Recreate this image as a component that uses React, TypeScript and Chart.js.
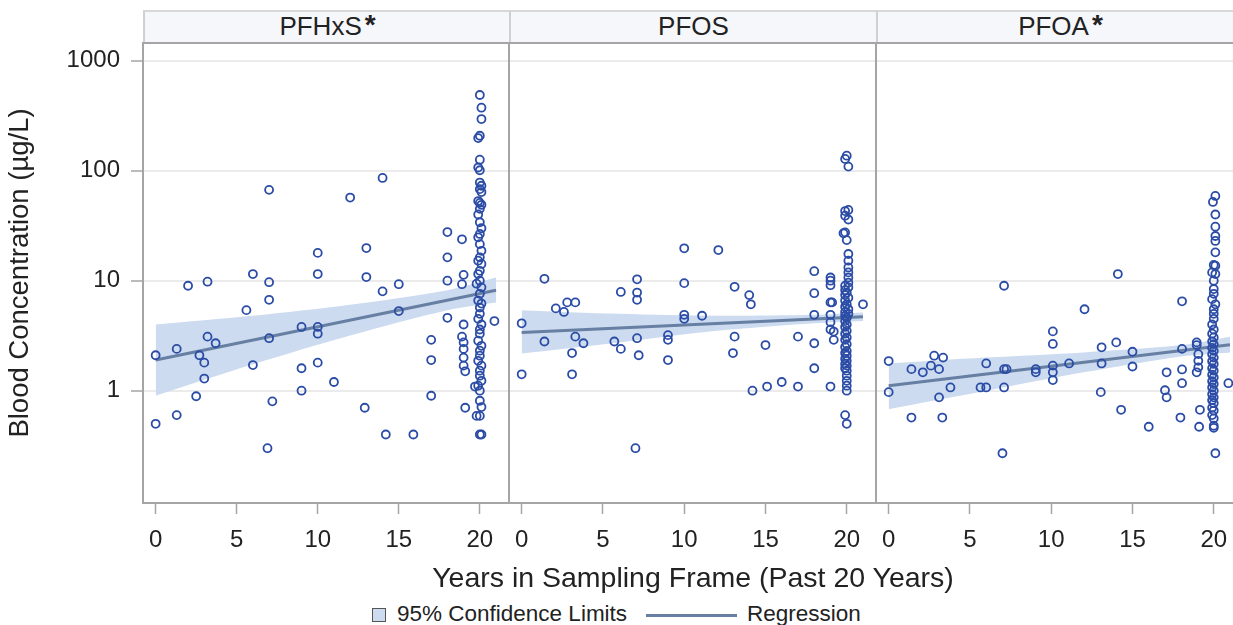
import { useEffect, useRef } from "react";
import { Chart, registerables } from "chart.js";

Chart.register(...registerables);

// ---- data ----
const panelNames = ["PFHxS", "PFOS", "PFOA"];
const panelStars = [true, false, true];

const xTicks = [0, 5, 10, 15, 20];
const yTicks = [1, 10, 100, 1000];

// regression endpoints (years, µg/L)
const fitYears = [0, 21];
const pfhxsFit = [1.9, 8.2];
const pfosFit = [3.39, 4.7];
const pfoaFit = [1.11, 2.62];

// 95% confidence limits
const bandYears = [0, 6, 12, 18, 21];
const pfhxsUpper = [4.0, 4.8, 6.05, 8.2, 10.7];
const pfhxsLower = [0.9, 1.74, 3.18, 5.4, 6.35];
const pfosUpper = [5.4, 5.0, 4.8, 4.9, 5.15];
const pfosLower = [2.18, 2.75, 3.5, 4.1, 4.3];
const pfoaUpper = [1.77, 2.0, 2.23, 2.6, 3.1];
const pfoaLower = [0.68, 1.0, 1.47, 2.05, 2.23];

// observations [years, concentration]
const pfhxsPoints: [number, number][] = [
  [0, 2.1], [0, 0.5], [1.3, 2.4], [1.3, 0.6], [2, 9.0], [2.5, 0.89], [2.7, 2.1], [3, 1.8], [3, 1.29],
  [3.2, 9.8], [3.2, 3.1], [3.7, 2.7], [5.6, 5.4], [6, 11.5], [6, 1.71], [7, 67], [7, 9.7], [7, 6.7],
  [7, 3.0], [7.2, 0.8], [6.9, 0.3], [9, 3.8], [9, 1.6], [9, 1.0], [10, 17.9], [10, 11.5], [10, 3.8],
  [10, 3.3], [10, 1.8], [11, 1.2], [12, 57], [12.9, 0.7], [13, 19.8], [13, 10.8], [14, 86], [14, 8.0],
  [14.2, 0.4], [15, 9.3], [15, 5.3], [15.9, 0.4], [17, 2.9], [17, 1.9], [17, 0.9], [18, 27.7], [18, 16.3],
  [18, 10], [18, 4.6], [18.9, 23.8], [18.9, 9.3], [19, 11.3], [19, 4.0], [18.9, 3.1], [19, 2.75], [19, 2.4],
  [19, 2.0], [19, 1.69], [19.1, 1.5], [19.1, 0.7], [19.8, 9.4], [19.7, 1.09], [19.8, 0.59], [20.9, 4.3],
  [20, 488], [20.1, 374], [20.1, 295], [20, 208], [19.9, 198], [20, 126], [19.9, 107], [20, 101], [20, 78],
  [20.1, 73], [20, 68], [20.1, 64], [19.9, 53], [20, 51], [20.1, 49], [20, 45], [19.9, 40], [20, 34],
  [20.1, 30], [20, 26.6], [19.9, 24.8], [20, 21.5], [20.1, 18.7], [20, 16.3], [19.9, 15.2], [20.1, 14.2],
  [20, 12.3], [19.9, 11.5], [20, 10], [20.1, 8.7], [20, 7.6], [19.9, 6.6], [20.1, 6.2], [20, 5.7], [20, 5.0],
  [19.9, 4.5], [20.1, 4.0], [20, 3.6], [20, 3.3], [19.9, 2.85], [20.1, 2.56], [20, 2.31], [20, 2.08],
  [19.9, 1.87], [20.1, 1.69], [20, 1.52], [20, 1.37], [20.1, 1.23], [19.9, 1.11], [20, 1.0], [20, 0.81],
  [20.1, 0.71], [20, 0.59], [20, 0.4], [20.1, 0.4],
];

const pfosPoints: [number, number][] = [
  [0, 4.1], [0, 1.41], [1.4, 10.4], [1.4, 2.8], [2.1, 5.6], [2.6, 5.2], [2.8, 6.35], [3.1, 2.2], [3.1, 1.41],
  [3.3, 6.35], [3.3, 3.1], [3.8, 2.7], [5.7, 2.8], [6.1, 7.9], [6.1, 2.4], [7.1, 10.3], [7.1, 7.8], [7.1, 6.7],
  [7.1, 3.0], [7.2, 2.1], [7.0, 0.3], [9, 3.2], [9, 2.9], [9, 1.9], [10, 19.7], [10, 9.5], [10, 4.9],
  [10, 4.5], [11.1, 4.8], [12.1, 19.0], [13.1, 8.8], [13.1, 3.1], [13, 2.2], [14, 7.4], [14.1, 6.1],
  [14.2, 1.0], [15, 2.6], [15.1, 1.09], [16, 1.2], [17, 3.1], [17, 1.09], [18, 12.2], [18, 7.7], [18, 4.9],
  [18, 2.7], [18, 1.6], [19, 10.7], [19, 10], [19, 9.1], [19, 6.35], [19.1, 6.35], [19, 4.9], [19, 4.2],
  [19, 3.6], [19.2, 3.45], [19.2, 2.9], [19, 1.09], [21, 6.1],
  [20, 137], [19.9, 128], [20.1, 109], [19.9, 43], [20.1, 44], [19.9, 39], [20.1, 36], [19.9, 27.5],
  [19.8, 27], [20, 23.4], [20.1, 17.5], [20.1, 15.2], [20.1, 13.2], [20.1, 11.9], [20.1, 10.7], [20.1, 9.6],
  [20.1, 8.7], [20, 7.8], [20.1, 7.0], [20, 6.1], [20.1, 5.5], [20.1, 5.0], [20, 4.6], [20, 4.0], [20, 3.5],
  [20, 3.05], [20, 2.65], [20, 2.3], [20, 2.08], [20, 1.87], [20, 1.69], [20, 1.52], [20, 1.37], [20, 1.23],
  [20, 1.11], [20, 1.0], [19.9, 0.6], [20, 0.5], [19.9, 9.0], [19.9, 8.2], [19.9, 7.4], [19.9, 6.6],
  [19.9, 5.8], [19.9, 5.2], [19.9, 4.8], [19.9, 4.3], [19.9, 3.8], [19.9, 3.3], [19.9, 2.9], [19.9, 2.5],
  [19.9, 2.2], [19.9, 1.95], [19.9, 1.75], [19.9, 1.6],
];

const pfoaPoints: [number, number][] = [
  [0, 1.86], [0, 0.97], [1.4, 1.57], [1.4, 0.57], [2.1, 1.47], [2.6, 1.69], [2.8, 2.08], [3.35, 2.0],
  [3.1, 1.57], [3.1, 0.87], [3.3, 0.57], [3.8, 1.07], [5.65, 1.07], [6, 1.77], [6, 1.07], [7.1, 9.0],
  [7.1, 1.57], [7.25, 1.57], [7.1, 1.07], [7, 0.27], [9.05, 1.57], [9.05, 1.47], [10.1, 3.46], [10.1, 2.66],
  [10.1, 1.69], [10.1, 1.47], [10.1, 1.25], [11.1, 1.77], [12.05, 5.5], [13.1, 2.48], [13.1, 1.77],
  [13.05, 0.97], [14.1, 11.5], [14, 2.75], [14.3, 0.67], [15, 2.26], [15, 1.66], [16, 0.47], [17.1, 1.47],
  [17, 1.01], [17.1, 0.87], [18.05, 6.5], [18.05, 2.4], [18.05, 1.56], [18.05, 1.17], [17.95, 0.57],
  [18.95, 2.75], [18.95, 2.6], [19.05, 2.15], [19.05, 1.87], [19.05, 1.63], [18.95, 1.47], [19.15, 0.67],
  [19.1, 0.47], [20.9, 1.17],
  [20.1, 59], [19.95, 52], [20.1, 40], [20.1, 31], [20.1, 25.5], [20.1, 23], [20.1, 18.1], [20, 13.9],
  [20.1, 13.7], [19.9, 11.9], [20.1, 11.5], [20, 10], [20, 8.4], [20, 7.6], [19.9, 6.8], [20.1, 6.1],
  [20, 5.5], [20, 5.0], [20, 4.5], [20, 3.6], [20, 3.05], [20, 2.65], [20, 2.3], [20, 2.0], [20, 1.75],
  [20, 1.52], [20, 1.32], [20, 1.15], [20, 1.0], [20, 0.87], [20, 0.77], [20, 0.66], [20, 0.56], [20, 0.48],
  [20, 0.46], [20.1, 0.27], [19.9, 4.0], [19.9, 3.3], [19.9, 2.8], [19.9, 2.45], [19.9, 2.15], [19.9, 1.85],
  [19.9, 1.6], [19.9, 1.4], [19.9, 1.22], [19.9, 1.07], [19.9, 0.93], [19.9, 0.82], [19.9, 0.7], [19.9, 0.6],
];

// ---- styling ----
const FONT = "'Liberation Sans', Arial, sans-serif";
const TEXT = "#222";
const POINT = "#2B4CA6";
const FIT = "#667FA2";
const BAND = "#CCDBEF";
const GRID = "#EBEBEB";
const FRAME = "#A5A5A5";

const framePlugin = {
  id: "frame",
  afterDatasetsDraw(chart: Chart) {
    const { ctx, chartArea } = chart;
    ctx.save();
    ctx.strokeStyle = FRAME;
    ctx.lineWidth = 2;
    ctx.strokeRect(chartArea.left, chartArea.top, chartArea.right - chartArea.left, chartArea.bottom - chartArea.top);
    ctx.restore();
  },
};

interface PanelProps {
  points: [number, number][];
  fit: number[];
  upper: number[];
  lower: number[];
  showY: boolean;
  left: number;
  width: number;
}

function Panel({ points, fit, upper, lower, showY, left, width }: PanelProps) {
  const canvasRef = useRef<HTMLCanvasElement>(null);

  useEffect(() => {
    if (!canvasRef.current) return;
    const chart = new Chart(canvasRef.current, {
      type: "scatter",
      data: {
        datasets: [
          {
            label: "Observed",
            data: points.map(([x, y]) => ({ x, y })),
            pointRadius: 4,
            pointBorderWidth: 1.8,
            pointBorderColor: POINT,
            pointBackgroundColor: "rgba(0,0,0,0)",
          },
          {
            type: "line",
            label: "Regression",
            data: fitYears.map((x, i) => ({ x, y: fit[i] })),
            borderColor: FIT,
            borderWidth: 3,
            pointRadius: 0,
            fill: false,
          },
          {
            type: "line",
            label: "Upper",
            data: bandYears.map((x, i) => ({ x, y: upper[i] })),
            borderWidth: 0,
            borderColor: "rgba(0,0,0,0)",
            backgroundColor: BAND,
            pointRadius: 0,
            tension: 0.3,
            fill: "+1",
          },
          {
            type: "line",
            label: "Lower",
            data: bandYears.map((x, i) => ({ x, y: lower[i] })),
            borderWidth: 0,
            borderColor: "rgba(0,0,0,0)",
            pointRadius: 0,
            tension: 0.3,
            fill: false,
          },
        ],
      },
      options: {
        animation: false,
        responsive: true,
        maintainAspectRatio: false,
        layout: { autoPadding: false, padding: { top: 10, left: 0, right: 0, bottom: 0 } },
        plugins: { legend: { display: false }, tooltip: { enabled: false } },
        scales: {
          x: {
            type: "linear",
            min: -0.78,
            max: 21.8,
            afterBuildTicks: (s: any) => {
              s.ticks = xTicks.map((v) => ({ value: v }));
            },
            afterFit: (s: any) => {
              s.height = 60;
              s.paddingLeft = 0;
              s.paddingRight = 0;
              s.paddingTop = 0;
              s.paddingBottom = 0;
            },
            grid: { drawOnChartArea: false, tickLength: 11, tickColor: FRAME, tickWidth: 1.5 },
            border: { display: false },
            ticks: { padding: 12, color: TEXT, font: { family: FONT, size: 24 } },
          },
          y: {
            type: "logarithmic",
            min: 0.0953,
            max: 1449,
            afterBuildTicks: (s: any) => {
              s.ticks = yTicks.map((v) => ({ value: v }));
            },
            afterFit: (s: any) => {
              s.width = showY ? 143 : 0;
              s.paddingLeft = 0;
              s.paddingRight = 0;
              s.paddingTop = 0;
              s.paddingBottom = 0;
            },
            grid: { color: GRID, lineWidth: 2, drawTicks: showY, tickLength: 12, tickColor: FRAME, tickWidth: 1.5 },
            border: { display: false },
            ticks: {
              display: showY,
              padding: 11,
              color: TEXT,
              font: { family: FONT, size: 24 },
              callback: (v: any) => String(v),
            },
            title: {
              display: showY,
              text: "Blood Concentration (µg/L)",
              color: TEXT,
              font: { family: FONT, size: 27.5 },
              padding: { top: 4, bottom: 0 },
            },
          },
        },
      },
      plugins: [framePlugin],
    });
    return () => chart.destroy();
  }, [points, fit, upper, lower, showY]);

  return (
    <div style={{ position: "absolute", left, top: 33, width, height: 530 }}>
      <canvas ref={canvasRef} />
    </div>
  );
}

const headerLefts = [143, 509, 876];

export default function App() {
  const pointSets = [pfhxsPoints, pfosPoints, pfoaPoints];
  const fits = [pfhxsFit, pfosFit, pfoaFit];
  const uppers = [pfhxsUpper, pfosUpper, pfoaUpper];
  const lowers = [pfhxsLower, pfosLower, pfoaLower];

  return (
    <div
      style={{
        position: "absolute",
        left: 0,
        top: 0,
        width: 1233,
        height: 625,
        overflow: "hidden",
        background: "#fff",
        fontFamily: FONT,
        color: TEXT,
      }}
    >
      {panelNames.map((name, i) => (
        <div
          key={name}
          style={{
            position: "absolute",
            left: headerLefts[i],
            top: 10,
            width: 367,
            height: 33,
            boxSizing: "border-box",
            background: "#F6F7FB",
            borderTop: "2px solid #D8D8D8",
            borderLeft: "2px solid #D0D0D0",
            display: "flex",
            alignItems: "center",
            justifyContent: "center",
            fontSize: 26,
            paddingBottom: 2,
          }}
        >
          <span>{name}</span>
          {panelStars[i] && (
            <span style={{ fontWeight: "bold", fontSize: 28, marginLeft: 3, position: "relative", top: -2 }}>*</span>
          )}
        </div>
      ))}

      {panelNames.map((name, i) => (
        <Panel
          key={name}
          points={pointSets[i]}
          fit={fits[i]}
          upper={uppers[i]}
          lower={lowers[i]}
          showY={i === 0}
          left={i === 0 ? 0 : headerLefts[i]}
          width={i === 0 ? 509 : 367}
        />
      ))}

      <div
        style={{
          position: "absolute",
          left: 143,
          top: 561,
          width: 1100,
          textAlign: "center",
          fontSize: 28.5,
          lineHeight: "32px",
          whiteSpace: "nowrap",
        }}
      >
        Years in Sampling Frame (Past 20 Years)
      </div>

      <div
        style={{
          position: "absolute",
          left: 372,
          top: 608,
          width: 14,
          height: 14,
          boxSizing: "border-box",
          background: BAND,
          border: "1.5px solid #555",
        }}
      />
      <div style={{ position: "absolute", left: 397, top: 600.5, fontSize: 22.5, lineHeight: "26px", whiteSpace: "nowrap" }}>
        95% Confidence Limits
      </div>
      <div style={{ position: "absolute", left: 646, top: 613.5, width: 91, height: 3, background: FIT }} />
      <div style={{ position: "absolute", left: 747, top: 600.5, fontSize: 22.5, lineHeight: "26px", whiteSpace: "nowrap" }}>
        Regression
      </div>
    </div>
  );
}
